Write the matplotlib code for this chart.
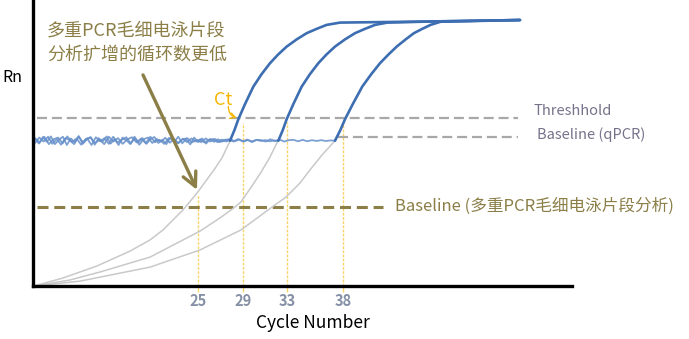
import numpy as np
import matplotlib
matplotlib.use("Agg")
import matplotlib.pyplot as plt

plt.rcParams['font.family'] = ['Noto Sans CJK SC', 'DejaVu Sans']

# ---------------- data ----------------
tick_cycles = [25, 29, 33, 38]
tick_labels = ["25", "29", "33", "38"]
vline_tops = [0.318, 0.570, 0.573, 0.575]

threshold = 0.586
baseline_qpcr = 0.521
baseline_ce = 0.277
blue_base = 0.508

# blue qPCR amplification curves (cycle, Rn)
q1_x = [27.85, 28.25, 28.60, 29.20, 29.95, 30.68, 31.45, 32.17, 32.95, 33.84, 34.75, 35.64, 36.55, 37.75, 46.15, 53.95]
q1_y = [0.508, 0.545, 0.583, 0.636, 0.697, 0.740, 0.779, 0.809, 0.837, 0.862, 0.884, 0.899, 0.913, 0.921, 0.925, 0.930]
q2_x = [32.20, 32.60, 32.95, 33.55, 34.30, 35.03, 35.80, 36.52, 37.30, 38.19, 39.10, 39.99, 40.90, 42.00, 46.15, 53.95]
q2_y = [0.508, 0.545, 0.583, 0.636, 0.697, 0.740, 0.779, 0.809, 0.837, 0.862, 0.884, 0.899, 0.913, 0.921, 0.925, 0.930]
q3_x = [37.30, 37.78, 38.20, 38.90, 39.75, 40.55, 41.35, 42.10, 42.85, 43.65, 44.40, 45.15, 45.90, 46.80, 53.95]
q3_y = [0.508, 0.545, 0.583, 0.636, 0.697, 0.740, 0.779, 0.809, 0.837, 0.862, 0.884, 0.899, 0.913, 0.924, 0.930]

# baseline noise of the blue curves (Rn offsets)
noise1 = [0.006, -0.010, 0.013, -0.004, 0.015, -0.012, 0.003, 0.014, -0.015, 0.008,
          -0.006, 0.016, -0.011, 0.004, 0.012, -0.014, 0.009, -0.003, 0.015, -0.010,
          0.006, -0.015, 0.011, 0.001, -0.012, 0.014, -0.006, 0.009, -0.011, 0.005,
          0.013, -0.008, 0.003, -0.012, 0.010, -0.004, 0.014, -0.009, 0.006, -0.013,
          0.011, -0.005, 0.008, -0.010, 0.006, -0.004, 0.005, -0.003, 0.002, 0.000]
noise2 = [-0.008, 0.011, -0.003, 0.014, -0.011, 0.006, -0.014, 0.009, 0.002, -0.012,
          0.015, -0.005, 0.008, -0.015, 0.012, -0.002, 0.009, -0.011, 0.014, -0.006,
          0.003, 0.012, -0.009, 0.008, -0.014, 0.005, 0.011, -0.008, 0.006, -0.003,
          0.010, -0.007, 0.005, -0.009, 0.007, -0.005, 0.008, -0.003, 0.005, -0.006,
          0.003, 0.006, -0.005, 0.004, -0.003, 0.005, -0.002, 0.004, -0.003, 0.002,
          -0.002, 0.003, -0.001, 0.002, -0.002, 0.001, 0.000]
noise3 = [0.009, -0.006, 0.014, -0.012, 0.005, 0.011, -0.009, 0.015, -0.005, 0.008,
          -0.014, 0.006, 0.012, -0.008, 0.003, -0.012, 0.014, -0.003, 0.009, -0.011,
          0.005, 0.012, -0.006, 0.008, -0.009, 0.014, -0.005, 0.003, -0.011, 0.009,
          0.006, -0.008, 0.005, 0.009, -0.006, 0.003, -0.005, 0.008, -0.003, 0.006,
          -0.005, 0.003, 0.005, -0.003, 0.006, -0.002, 0.004, -0.005, 0.003, 0.002,
          -0.003, 0.005, -0.002, 0.004, -0.003, 0.002, 0.003, -0.002, 0.003, -0.002,
          0.002, -0.001, 0.002, -0.001, 0.001, 0.000]

# grey exponential curves (capillary electrophoresis view)
g1_x = [10.21, 12.82, 15.88, 18.85, 20.65, 21.82, 23.62, 24.88, 26.41, 27.13, 27.85]
g1_y = [0.000, 0.028, 0.070, 0.122, 0.161, 0.196, 0.266, 0.325, 0.406, 0.448, 0.507]
g2_x = [10.21, 13.45, 16.15, 20.65, 25.15, 26.95, 28.30, 28.84, 29.83, 30.55, 31.45, 32.17]
g2_y = [0.000, 0.021, 0.049, 0.101, 0.192, 0.238, 0.276, 0.294, 0.350, 0.392, 0.451, 0.508]
g3_x = [10.21, 14.35, 20.65, 25.15, 28.84, 31.63, 32.89, 34.15, 35.05, 36.13, 37.30]
g3_y = [0.000, 0.017, 0.066, 0.126, 0.196, 0.276, 0.311, 0.360, 0.406, 0.458, 0.508]

# ---------------- colours ----------------
BLUE = '#3d6eb1'
BLUE_NOISE = '#6690ca'
GREY_CURVE = '#c9c9c9'
GREY_DASH = '#a8a8a8'
OLIVE = '#8b7e47'
AMBER = '#f3b600'
VYELLOW = '#f9d46a'
LABEL_GREY = '#75738a'
TICK_COL = '#8590a6'

# ---------------- figure ----------------
W, H = 689, 339
fig = plt.figure(figsize=(W / 100, H / 100), dpi=100)
ax = fig.add_axes([33 / W, 53 / H, (572 - 33) / W, 286 / H])
ax.set_xlim(10.12, 58.63)
ax.set_ylim(0, 1)

for s in ['top', 'right']:
    ax.spines[s].set_visible(False)
for s in ['left', 'bottom']:
    ax.spines[s].set_linewidth(2.4)
    ax.spines[s].set_color('black')
    ax.spines[s].set_zorder(10)
ax.set_yticks([])
ax.set_xticks(tick_cycles)
ax.set_xticklabels(tick_labels, color=TICK_COL, fontsize=10.5, fontweight='bold')
ax.tick_params(axis='x', length=4, width=1, color=VYELLOW, pad=1)

# vertical cycle guides
for c, top in zip(tick_cycles, vline_tops):
    ax.plot([c, c], [0, top], color=VYELLOW, lw=1.0, ls=(0, (2, 1)), zorder=2)

# dashed reference lines
ax.plot([10.45, 53.8], [threshold, threshold], color=GREY_DASH, lw=1.6,
        dashes=(4.5, 2.2), zorder=3)
ax.plot([37.6, 53.8], [baseline_qpcr, baseline_qpcr], color=GREY_DASH, lw=1.6,
        dashes=(4.5, 2.2), zorder=3)
ax.plot([10.45, 41.6], [baseline_ce, baseline_ce], color=OLIVE, lw=2.2,
        dashes=(3.6, 1.9), zorder=3)

# grey curves
for gx, gy in [(g1_x, g1_y), (g2_x, g2_y), (g3_x, g3_y)]:
    ax.plot(gx, gy, color=GREY_CURVE, lw=1.1, zorder=4)

# blue baselines with noise, then amplification curves
for nz, qx, qy in [(noise3, q3_x, q3_y), (noise2, q2_x, q2_y), (noise1, q1_x, q1_y)]:
    bx = np.linspace(10.3, qx[0], len(nz))
    by = blue_base + np.array(nz)
    ax.plot(bx, by, color=BLUE_NOISE, lw=1.3, alpha=0.85, zorder=5)
    ax.plot(qx, qy, color=BLUE, lw=1.9, zorder=6, solid_capstyle='round',
            solid_joinstyle='round')

# texts
ax.text(11.38, 0.892, "多重PCR毛细电泳片段", color=OLIVE, fontsize=13,
        ha='left', va='center')
ax.text(11.38, 0.808, "分析扩增的循环数更低", color=OLIVE, fontsize=13,
        ha='left', va='center')
ax.annotate("", xy=(24.88, 0.336), xytext=(20.02, 0.738),
            arrowprops=dict(arrowstyle='->,head_length=1.0,head_width=0.5',
                            color=OLIVE, lw=2.4, shrinkA=0, shrinkB=0), zorder=7)

ax.text(27.22, 0.652, "Ct", color=AMBER, fontsize=13, ha='center', va='center')
ax.annotate("", xy=(28.43, 0.588), xytext=(27.70, 0.628),
            arrowprops=dict(arrowstyle='->,head_length=0.35,head_width=0.2',
                            color=AMBER, lw=1.0, shrinkA=0, shrinkB=0,
                            connectionstyle='arc3,rad=0.35'), zorder=7)

ax.text(42.70, 0.280, "Baseline (多重PCR毛细电泳片段分析)", color=OLIVE,
        fontsize=12, ha='left', va='center')
ax.text(55.21, 0.612, "Threshhold", color=LABEL_GREY, fontsize=10.5,
        ha='left', va='center')
ax.text(55.48, 0.528, "Baseline (qPCR)", color=LABEL_GREY, fontsize=10.5,
        ha='left', va='center')

fig.text(12 / W, 1 - 77 / H, "Rn", color='black', fontsize=11.5,
         ha='center', va='center')
fig.text(313 / W, 1 - 323 / H, "Cycle Number", color='black', fontsize=12.5,
         ha='center', va='center')

fig.savefig("out.png", dpi=100)
